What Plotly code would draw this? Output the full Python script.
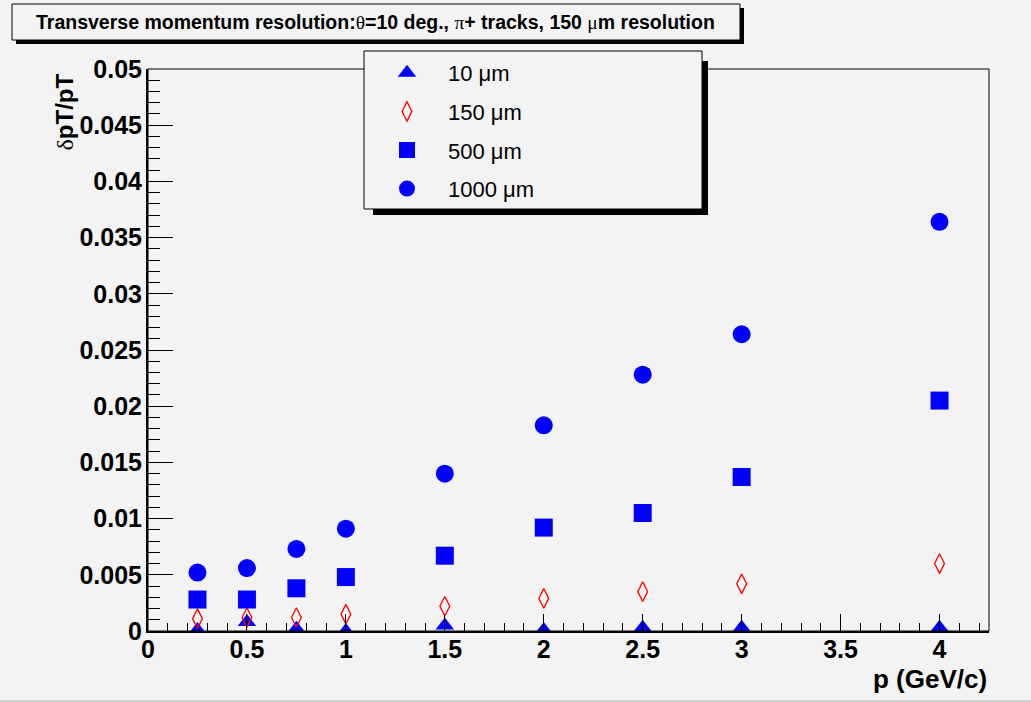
import plotly.graph_objects as go

# ---------------- data ----------------
p_values = [0.25, 0.5, 0.75, 1.0, 1.5, 2.0, 2.5, 3.0, 4.0]
res_10um = [0.0001, 0.0008, 0.0002, 0.0000, 0.0005, 0.0001, 0.0003, 0.0003, 0.0003]
res_150um = [0.0011, 0.0012, 0.0012, 0.0015, 0.0022, 0.0029, 0.0035, 0.0042, 0.0060]
res_500um = [0.0028, 0.0028, 0.0038, 0.0048, 0.0067, 0.0092, 0.0105, 0.0137, 0.0205]
res_1000um = [0.0052, 0.0056, 0.0073, 0.0091, 0.0140, 0.0183, 0.0228, 0.0264, 0.0364]

series_names = ["10 \u03bcm", "150 \u03bcm", "500 \u03bcm", "1000 \u03bcm"]

x_tick_vals = [0, 0.5, 1, 1.5, 2, 2.5, 3, 3.5, 4]
x_tick_text = ["0", "0.5", "1", "1.5", "2", "2.5", "3", "3.5", "4"]
y_tick_vals = [0, 0.005, 0.01, 0.015, 0.02, 0.025, 0.03, 0.035, 0.04, 0.045, 0.05]
y_tick_text = ["0", "0.005", "0.01", "0.015", "0.02", "0.025", "0.03", "0.035",
               "0.04", "0.045", "0.05"]

# ---------------- layout geometry (pixels) ----------------
W, H = 1031, 702
L, R, T, B = 148, 989, 69, 631
PW, PH = R - L, B - T


def px(xp):
    return (xp - L) / PW


def py(yp):
    return (B - yp) / PH


BG = "#f3f3f3"
FONT = "Liberation Sans, Arial, Helvetica, sans-serif"

fig = go.Figure()

fig.add_trace(go.Scatter(
    x=p_values, y=res_10um, mode="markers", name=series_names[0], legendgroup="a",
    marker=dict(symbol="triangle-up", size=16, color="#0000ff", line=dict(width=0))))
fig.add_trace(go.Scatter(
    x=p_values, y=res_150um, mode="markers", name=series_names[1], legendgroup="b",
    marker=dict(symbol="diamond-tall-open", size=14, color="#ff0000",
                line=dict(width=1.3, color="#ff0000"))))
fig.add_trace(go.Scatter(
    x=p_values, y=res_500um, mode="markers", name=series_names[2], legendgroup="c",
    marker=dict(symbol="square", size=18, color="#0000ff", line=dict(width=0))))
fig.add_trace(go.Scatter(
    x=p_values, y=res_1000um, mode="markers", name=series_names[3], legendgroup="d",
    marker=dict(symbol="circle", size=18, color="#0000ff", line=dict(width=0))))

shapes = []
# frame
shapes.append(dict(type="rect", xref="paper", yref="paper", x0=0, y0=0, x1=1, y1=1,
                   line=dict(color="black", width=1), layer="above"))
# title box shadow + box
shapes.append(dict(type="rect", xref="paper", yref="paper",
                   x0=px(16), x1=px(744), y0=py(8), y1=py(44),
                   fillcolor="black", line=dict(width=0), layer="above"))
shapes.append(dict(type="rect", xref="paper", yref="paper",
                   x0=px(12), x1=px(740), y0=py(4), y1=py(40),
                   fillcolor=BG, line=dict(color="black", width=1), layer="above"))
# legend box shadow + box
shapes.append(dict(type="rect", xref="paper", yref="paper",
                   x0=px(373), x1=px(708), y0=py(61), y1=py(215),
                   fillcolor="black", line=dict(width=0), layer="above"))
shapes.append(dict(type="rect", xref="paper", yref="paper",
                   x0=px(364), x1=px(702), y0=py(51), y1=py(209),
                   fillcolor=BG, line=dict(color="black", width=1), layer="above"))
# canvas bottom border
shapes.append(dict(type="line", xref="paper", yref="paper",
                   x0=px(0), x1=px(W), y0=py(701), y1=py(701),
                   line=dict(color="#b0b0b0", width=1)))

sym = "font-family:Liberation Serif, Times New Roman, serif;font-weight:normal"
title_text = ("Transverse momentum resolution:<span style='%s'>\u03b8</span>=10 deg., "
              "<span style='%s'>\u03c0</span>+ tracks, 150 <span style='%s'>\u03bc</span>m resolution"
              % (sym, sym, sym))

annotations = [
    dict(text=title_text, xref="paper", yref="paper", x=px(375), y=py(22),
         xanchor="center", yanchor="middle", showarrow=False,
         font=dict(family=FONT, size=19.5, color="black", weight="bold")),
    dict(text="p (GeV/c)", xref="paper", yref="paper", x=px(930), y=py(679),
         xanchor="center", yanchor="middle", showarrow=False,
         font=dict(family=FONT, size=26, color="black", weight="bold")),
    dict(text="<span style='%s'>\u03b4</span>pT/pT" % sym, xref="paper", yref="paper",
         x=px(64), y=py(72), xanchor="center", yanchor="top", textangle=-90,
         showarrow=False, font=dict(family=FONT, size=24, color="black", weight="bold")),
]

fig.update_layout(
    width=W, height=H,
    margin=dict(l=L, r=W - R, t=T, b=H - B, pad=0),
    paper_bgcolor=BG, plot_bgcolor=BG,
    font=dict(family=FONT, color="black"),
    showlegend=True,
    legend=dict(x=px(366), y=py(52), xanchor="left", yanchor="top",
                bgcolor="rgba(0,0,0,0)", borderwidth=0, itemwidth=72,
                tracegroupgap=7, traceorder="grouped",
                font=dict(family=FONT, size=22, color="black")),
    shapes=shapes,
    annotations=annotations,
    xaxis=dict(range=[0, 4.25], showgrid=False, zeroline=False,
               showline=True, linecolor="black", linewidth=2, mirror=False,
               ticks="inside", ticklen=17, tickwidth=1, tickcolor="black",
               tickvals=x_tick_vals, ticktext=x_tick_text, ticklabelstandoff=-5,
               tickfont=dict(family=FONT, size=25, color="black", weight="bold"),
               minor=dict(ticks="inside", ticklen=8, dtick=0.1, tick0=0,
                          tickcolor="black", tickwidth=1, showgrid=False)),
    yaxis=dict(range=[0, 0.05], showgrid=False, zeroline=False,
               showline=True, linecolor="black", linewidth=2, mirror=False,
               ticks="inside", ticklen=25, tickwidth=1, tickcolor="black",
               tickvals=y_tick_vals, ticktext=y_tick_text, ticklabelstandoff=-1,
               tickfont=dict(family=FONT, size=25, color="black", weight="bold"),
               minor=dict(ticks="inside", ticklen=12, dtick=0.001, tick0=0,
                          tickcolor="black", tickwidth=1, showgrid=False)),
)

fig.write_html(
    "out.html",
    config={"displayModeBar": False},
    post_script="document.body.style.margin='0';document.body.style.padding='0';"
                "document.body.style.background='%s';"
                "document.documentElement.style.background='%s';" % (BG, BG),
)
